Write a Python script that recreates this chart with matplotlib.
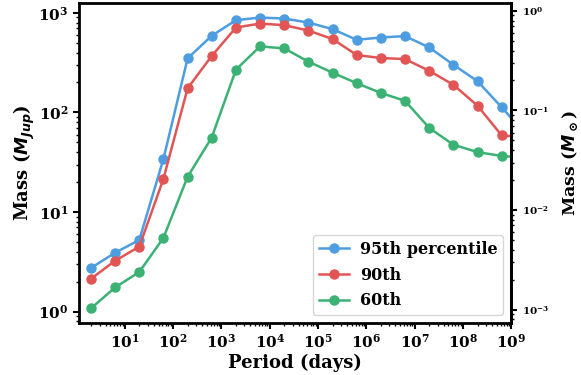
import matplotlib
matplotlib.use("Agg")
import matplotlib.pyplot as plt

# --- Data ---
period = [2, 6.3, 20, 63, 200, 630, 2e3, 6.3e3, 2e4, 6.3e4,
          2e5, 6.3e5, 2e6, 6.3e6, 2e7, 6.3e7, 2e8, 6.3e8, 2e9]
mass_95 = [2.75, 3.9, 5.25, 34, 349, 589, 845, 898, 877, 800,
           687, 537, 566, 585, 450, 302, 206, 113, 60]
mass_90 = [2.14, 3.24, 4.5, 21.5, 175, 369, 713, 781, 753, 665,
           546, 378, 352, 344, 262, 190, 117, 59, 56]
mass_60 = [1.08, 1.75, 2.5, 5.5, 22.6, 56, 269, 461, 440, 324,
           251, 197, 157, 131, 70, 47.5, 40, 36.6, 35]
labels = ["95th percentile", "90th", "60th"]
colors = ["#4d9de0", "#e15554", "#3bb273"]
msun_ticks = [1e-3, 1e-2, 1e-1, 1e0]
MJUP_PER_MSUN = 1047.6

plt.rcParams.update(
    {
        "font.family": "DejaVu Serif",
        "font.weight": "bold",
        "mathtext.fontset": "custom",
        "mathtext.rm": "DejaVu Serif:bold",
        "mathtext.it": "DejaVu Sans:italic:bold",
        "mathtext.bf": "DejaVu Serif:bold",
        "axes.linewidth": 2,
    }
)

fig = plt.figure(figsize=(5.81, 3.75), dpi=100)
ax = fig.add_axes([0.136, 0.139, 0.744, 0.853])

for y, lab, c in zip([mass_95, mass_90, mass_60], labels, colors):
    ax.plot(period, y, "-o", color=c, label=lab, lw=1.8, ms=6.5)

ax.set_xscale("log")
ax.set_yscale("log")
ax.set_xlim(1.13, 1e9)
ax.set_xticks([1e1, 1e2, 1e3, 1e4, 1e5, 1e6, 1e7, 1e8, 1e9])
ax.tick_params(which="major", labelsize=11, width=1.5, length=4)
ax.tick_params(which="minor", width=1, length=2.5)
ax.set_xlabel("Period (days)", fontsize=13, fontweight="bold", labelpad=2)
ax.set_ylabel(r"Mass ($M_{Jup}$)", fontsize=13, fontweight="bold", labelpad=1)

# right axis in solar masses
sec = ax.secondary_yaxis(
    "right",
    functions=(lambda m: m / MJUP_PER_MSUN, lambda m: m * MJUP_PER_MSUN),
)
sec.set_yscale("log")
sec.set_yticks(msun_ticks)
sec.tick_params(which="major", labelsize=7.5, width=1.5, length=4)
sec.tick_params(which="minor", width=1, length=2.5)
sec.set_ylabel(r"Mass ($M_\odot$)", fontsize=12.5, fontweight="bold", labelpad=8)

leg = ax.legend(loc="lower right", frameon=True, handlelength=1.9,
                borderpad=0.35, labelspacing=0.55, handletextpad=0.7,
                prop={"weight": "bold", "size": 11.5})
leg.get_frame().set_edgecolor("#cccccc")

plt.savefig("out.png", dpi=100)
